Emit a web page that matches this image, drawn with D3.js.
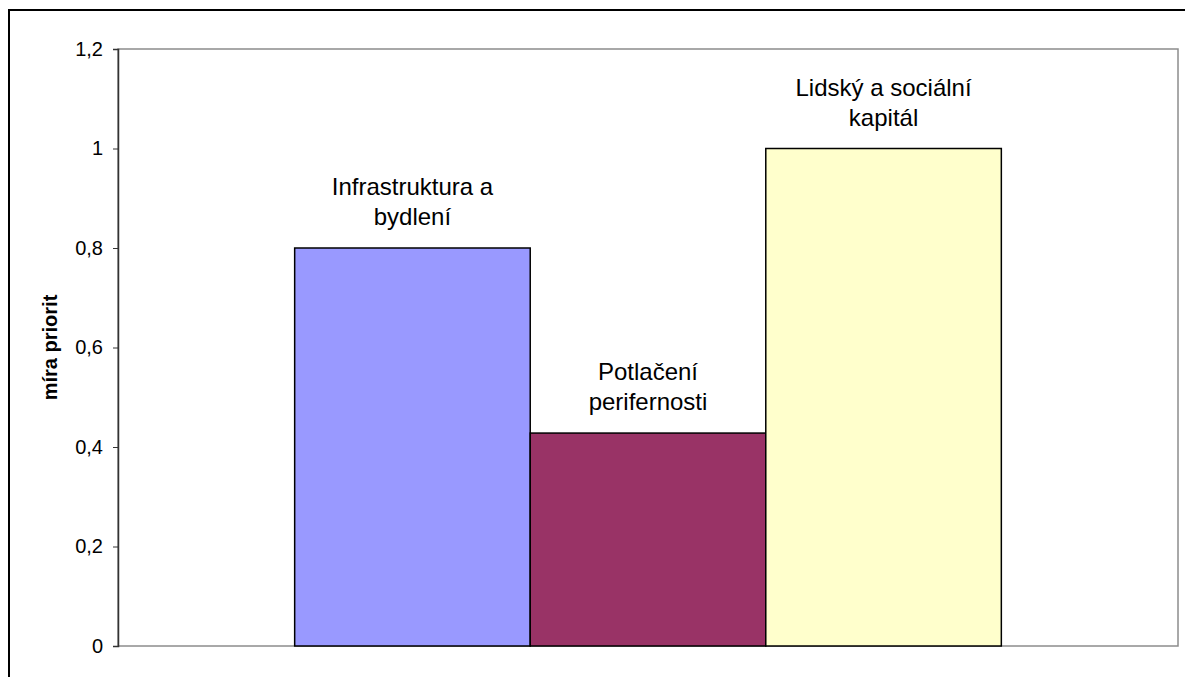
<!DOCTYPE html>
<meta charset="utf-8">
<head>
    <title>míra priorit</title>
</head>
<script src="https://d3js.org/d3.v7.min.js"></script>
<style>
  body { margin: 0; background: #fff; }
  text { font-family: "Liberation Sans", Arial, sans-serif; fill: #000; }
</style>
<div id="my_dataviz"></div>
<script>

// series (one category, three series)
var seriesNames = [["Infrastruktura a", "bydlení"], ["Potlačení", "perifernosti"], ["Lidský a sociální", "kapitál"]];
var seriesValues = [0.8, 0.428, 1.0];
var seriesColors = ["#9999ff", "#993366", "#ffffcc"];
var yTicks = [0, 0.2, 0.4, 0.6, 0.8, 1, 1.2];

var width = 1185,
    height = 677;

var plot = {left: 118, top: 49, right: 1178, bottom: 646};

var svg = d3.select("#my_dataviz")
  .append("svg")
    .attr("width", width)
    .attr("height", height);

// outer chart border (cropped on right and bottom)
svg.append("path")
    .attr("d", "M9," + height + "V10H" + width)
    .attr("fill", "none")
    .attr("stroke", "#000")
    .attr("stroke-width", 2);

var yScale = d3.scaleLinear()
    .domain([0, 1.2])
    .range([plot.bottom, plot.top]);

// gap width 150% -> outer padding
var xScale = d3.scaleBand()
    .domain(d3.range(seriesValues.length))
    .range([plot.left, plot.right])
    .paddingInner(0)
    .paddingOuter(0.75);

// plot area frame
svg.append("rect")
    .attr("x", plot.left)
    .attr("y", plot.top)
    .attr("width", plot.right - plot.left)
    .attr("height", plot.bottom - plot.top)
    .attr("fill", "#fff")
    .attr("stroke", "#8c8c8c")
    .attr("stroke-width", 1.5);

// bars
svg.selectAll(".bar")
    .data(seriesValues)
  .enter().append("rect")
    .attr("class", "bar")
    .attr("x", function(d, i) { return xScale(i); })
    .attr("y", function(d) { return yScale(d); })
    .attr("width", xScale.bandwidth())
    .attr("height", function(d) { return plot.bottom - yScale(d); })
    .attr("fill", function(d, i) { return seriesColors[i]; })
    .attr("stroke", "#000")
    .attr("stroke-width", 1.5);

// y axis
var yAxis = d3.axisLeft(yScale)
    .tickValues(yTicks)
    .tickSize(5)
    .tickPadding(10)
    .tickFormat(function(d) { return d3.format("~g")(d).replace(".", ","); });

var gy = svg.append("g")
    .attr("transform", "translate(" + plot.left + ",0)")
    .call(yAxis);
gy.select(".domain").attr("stroke", "#333").attr("stroke-width", 1.5);
gy.selectAll(".tick line").attr("stroke", "#333");
gy.selectAll(".tick text")
    .style("font-size", "20px")
    .style("font-family", "Liberation Sans, Arial, sans-serif")
    .attr("fill", "#000");

// data labels (series names)
var labels = svg.selectAll(".lbl")
    .data(seriesValues)
  .enter().append("text")
    .attr("class", "lbl")
    .attr("text-anchor", "middle")
    .style("font-size", "24px")
    .attr("x", function(d, i) { return xScale(i) + xScale.bandwidth() / 2; })
    .attr("y", function(d) { return yScale(d) - 53; });

labels.each(function(d, i) {
  var t = d3.select(this);
  seriesNames[i].forEach(function(line, k) {
    t.append("tspan")
      .attr("x", xScale(i) + xScale.bandwidth() / 2)
      .attr("dy", k === 0 ? 0 : 30)
      .text(line);
  });
});

// y axis title
svg.append("text")
    .attr("transform", "translate(57," + ((plot.top + plot.bottom) / 2) + ") rotate(-90)")
    .attr("text-anchor", "middle")
    .style("font-size", "20px")
    .style("font-weight", "bold")
    .text("míra priorit");

</script>
